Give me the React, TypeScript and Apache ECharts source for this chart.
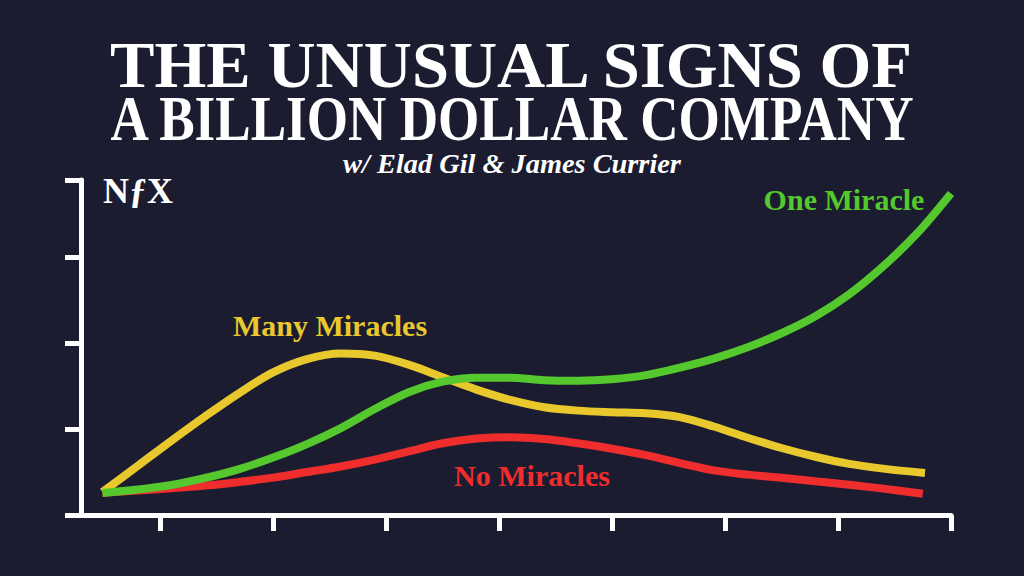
import React, { useEffect, useRef } from "react";
import * as echarts from "echarts";

// Horizontal sample positions shared by the curves
const sampleX = [1.9, 5, 8, 11, 14, 17, 20, 23, 26, 29, 32, 35, 38, 41, 44, 47, 50, 53, 56, 59, 62, 65, 68, 71];

const manyMiraclesY = [2.67, 5.7, 8.65, 11.5, 14.2, 16.6, 18.15, 18.8, 18.55, 17.5, 16.05, 14.6, 13.4, 12.55, 12.15, 11.97, 11.85, 11.4, 10.3, 9.0, 7.8, 6.78, 5.95, 5.4];
const manyMiraclesTail: [number, number][] = [[74.7, 4.9]];

const oneMiracleY = [2.56, 2.97, 3.5, 4.32, 5.35, 6.69, 8.26, 10.12, 12.33, 14.3, 15.52, 15.99, 15.99, 15.7, 15.64, 15.81, 16.28, 17.15, 18.2, 19.53, 21.16, 23.14, 25.7, 28.95];
const oneMiracleTail: [number, number][] = [[74, 32.79], [77, 37.44]];

const noMiraclesY = [2.6, 2.85, 3.1, 3.42, 3.85, 4.35, 5.0, 5.65, 6.45, 7.4, 8.35, 8.9, 9.05, 8.85, 8.35, 7.72, 6.98, 6.05, 5.2, 4.7, 4.33, 3.92, 3.52, 3.07];
const noMiraclesTail: [number, number][] = [[74.5, 2.47]];

const xTicks = [7, 17, 27, 37, 47, 57, 67, 77];
const yTicks = [0, 10, 20, 30, 39];

const COLORS = {
  bg: "#1b1c30",
  yellow: "#e8c82d",
  green: "#55c82d",
  red: "#f02d2d",
  white: "#ffffff",
};

const SERIF = '"Liberation Serif", "DejaVu Serif", serif';

function toPairs(xs: number[], ys: number[], tail: [number, number][]) {
  return [...xs.map((x, i) => [x, ys[i]]), ...tail];
}

function curve(name: string, data: number[][], color: string, z: number) {
  return {
    name,
    type: "line",
    data,
    smooth: 0.33,
    showSymbol: false,
    symbol: "none",
    z,
    lineStyle: { color, width: 8, cap: "butt" },
  };
}

export default function App() {
  const ref = useRef<HTMLDivElement>(null);

  useEffect(() => {
    document.body.style.margin = "0";
    if (!ref.current) return;
    const chart = echarts.init(ref.current, undefined, { renderer: "svg" });

    const axisLine = { show: true, onZero: false, lineStyle: { color: COLORS.white, width: 5 } };
    const tickStyle = { color: COLORS.white, width: 5 };

    chart.setOption({
      animation: false,
      backgroundColor: COLORS.bg,
      grid: { left: 81, right: 73, top: 180, bottom: 61, containLabel: false },
      xAxis: {
        type: "value",
        min: 0,
        max: 77,
        axisLine,
        axisTick: { show: true, customValues: xTicks, length: 16, lineStyle: tickStyle },
        axisLabel: { show: false },
        splitLine: { show: false },
      },
      yAxis: {
        type: "value",
        min: 0,
        max: 39,
        axisLine,
        axisTick: { show: true, customValues: yTicks, length: 16, lineStyle: tickStyle },
        axisLabel: { show: false },
        splitLine: { show: false },
      },
      series: [
        curve("No Miracles", toPairs(sampleX, noMiraclesY, noMiraclesTail), COLORS.red, 2),
        curve("Many Miracles", toPairs(sampleX, manyMiraclesY, manyMiraclesTail), COLORS.yellow, 3),
        curve("One Miracle", toPairs(sampleX, oneMiracleY, oneMiracleTail), COLORS.green, 4),
      ],
      graphic: [
        {
          type: "text",
          x: 511,
          y: 65,
          scaleX: 1.01,
          style: {
            text: "THE UNUSUAL SIGNS OF",
            fill: COLORS.white,
            font: `bold 66px ${SERIF}`,
            textAlign: "center",
            textVerticalAlign: "middle",
          },
        },
        {
          type: "text",
          x: 512,
          y: 119,
          scaleX: 0.83,
          style: {
            text: "A BILLION DOLLAR COMPANY",
            fill: COLORS.white,
            font: `bold 64px ${SERIF}`,
            textAlign: "center",
            textVerticalAlign: "middle",
          },
        },
        {
          type: "text",
          x: 512,
          y: 164,
          scaleX: 1.05,
          style: {
            text: "w/ Elad Gil & James Currier",
            fill: COLORS.white,
            font: `italic bold 27px ${SERIF}`,
            textAlign: "center",
            textVerticalAlign: "middle",
          },
        },
        {
          type: "text",
          x: 103,
          y: 191,
          style: {
            text: "NƒX",
            fill: COLORS.white,
            font: `bold 36px ${SERIF}`,
            textAlign: "left",
            textVerticalAlign: "middle",
          },
        },
        {
          type: "text",
          x: 844,
          y: 199,
          style: {
            text: "One Miracle",
            fill: COLORS.green,
            font: `bold 30px ${SERIF}`,
            textAlign: "center",
            textVerticalAlign: "middle",
          },
        },
        {
          type: "text",
          x: 330,
          y: 325,
          style: {
            text: "Many Miracles",
            fill: COLORS.yellow,
            font: `bold 30px ${SERIF}`,
            textAlign: "center",
            textVerticalAlign: "middle",
          },
        },
        {
          type: "text",
          x: 532,
          y: 475,
          style: {
            text: "No Miracles",
            fill: COLORS.red,
            font: `bold 30px ${SERIF}`,
            textAlign: "center",
            textVerticalAlign: "middle",
          },
        },
      ],
    });

    return () => chart.dispose();
  }, []);

  return (
    <div
      ref={ref}
      style={{ position: "fixed", left: 0, top: 0, width: 1024, height: 576 }}
    />
  );
}
